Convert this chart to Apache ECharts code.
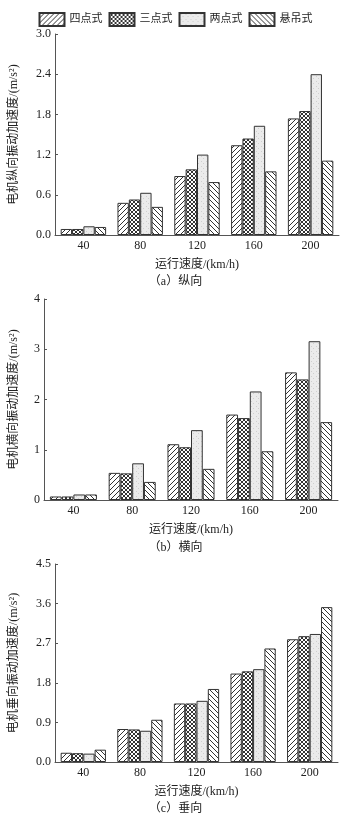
<!DOCTYPE html>
<html>
<head>
<meta charset="utf-8">
<script src="https://cdn.jsdelivr.net/npm/echarts@6/dist/echarts.min.js"></script>
<style>
  html, body { margin: 0; padding: 0; background: #fff; }
  #main { width: 351px; height: 817px; }
</style>
</head>
<body>
<div id="main"></div>
<script>
// 数据
var categories = ['40', '80', '120', '160', '200'];
var seriesNames = ['四点式', '三点式', '两点式', '悬吊式'];

// (a) 纵向
var longFour = [0.09, 0.48, 0.88, 1.34, 1.74];
var longThree = [0.09, 0.53, 0.98, 1.44, 1.85];
var longTwo = [0.13, 0.63, 1.20, 1.63, 2.40];
var longHang = [0.12, 0.42, 0.79, 0.95, 1.11];

// (b) 横向
var latFour = [0.07, 0.54, 1.11, 1.70, 2.54];
var latThree = [0.07, 0.53, 1.05, 1.63, 2.40];
var latTwo = [0.11, 0.73, 1.39, 2.16, 3.16];
var latHang = [0.11, 0.36, 0.62, 0.97, 1.55];

// (c) 垂向
var vertFour = [0.21, 0.75, 1.33, 2.01, 2.79];
var vertThree = [0.20, 0.74, 1.33, 2.06, 2.86];
var vertTwo = [0.19, 0.71, 1.39, 2.11, 2.91];
var vertHang = [0.28, 0.96, 1.66, 2.58, 3.52];

var font = '"Liberation Serif", "Noto Sans CJK SC", serif';

// 填充图案
function makePattern(type) {
    var c = document.createElement('canvas');
    var s = type === 'cross' ? 4 : 5;
    c.width = s; c.height = s;
    var ctx = c.getContext('2d');
    ctx.fillStyle = type === 'dots' ? '#ebebeb' : '#fff';
    ctx.fillRect(0, 0, s, s);
    ctx.strokeStyle = '#333';
    ctx.lineWidth = 1;
    if (type === 'fwd' || type === 'cross') {
        ctx.beginPath();
        ctx.moveTo(-1, s + 1); ctx.lineTo(s + 1, -1);
        ctx.moveTo(-1, 1); ctx.lineTo(1, -1);
        ctx.moveTo(s - 1, s + 1); ctx.lineTo(s + 1, s - 1);
        ctx.stroke();
    }
    if (type === 'back' || type === 'cross') {
        ctx.beginPath();
        ctx.moveTo(-1, -1); ctx.lineTo(s + 1, s + 1);
        ctx.moveTo(s - 1, -1); ctx.lineTo(s + 1, 1);
        ctx.moveTo(-1, s - 1); ctx.lineTo(1, s + 1);
        ctx.stroke();
    }
    if (type === 'dots') {
        ctx.fillStyle = '#cfcfcf';
        ctx.fillRect(1, 1, 1, 1);
        ctx.fillRect(3, 3, 1, 1);
    }
    return { image: c, repeat: 'repeat' };
}
var patterns = [makePattern('fwd'), makePattern('cross'), makePattern('dots'), makePattern('back')];

var grids = [
    { left: 53, right: 12, top: 34, height: 201 },
    { left: 44, right: 13, top: 299, height: 201 },
    { left: 53, right: 13, top: 564, height: 198 }
];
var yNames = ['电机纵向振动加速度/(m/s²)', '电机横向振动加速度/(m/s²)', '电机垂向振动加速度/(m/s²)'];
var yMax = [3, 4, 4.5];
var yStep = [0.6, 1, 0.9];
var yGap = [35, 24, 35];
var groups = [
    [longFour, longThree, longTwo, longHang],
    [latFour, latThree, latTwo, latHang],
    [vertFour, vertThree, vertTwo, vertHang]
];

var xAxes = [], yAxes = [], series = [];
for (var g = 0; g < 3; g++) {
    xAxes.push({
        gridIndex: g,
        type: 'category',
        data: categories,
        name: '运行速度/(km/h)',
        nameLocation: 'middle',
        nameGap: 24,
        nameTextStyle: { fontFamily: font, fontSize: 12, color: '#222' },
        axisLine: { lineStyle: { color: '#555' } },
        axisTick: { show: false },
        axisLabel: { fontFamily: font, fontSize: 12, color: '#222', margin: 5 }
    });
    (function (g) {
        yAxes.push({
            gridIndex: g,
            type: 'value',
            min: 0,
            max: yMax[g],
            interval: yStep[g],
            name: yNames[g],
            nameLocation: 'middle',
            nameRotate: 90,
            nameGap: yGap[g],
            nameTextStyle: { fontFamily: font, fontSize: 12, color: '#222' },
            splitLine: { show: false },
            axisLine: { show: true, lineStyle: { color: '#555' } },
            axisTick: { show: true, inside: true, length: 3, lineStyle: { color: '#555' } },
            axisLabel: {
                fontFamily: font, fontSize: 12, color: '#222', margin: 4,
                formatter: function (v) { return g === 1 ? String(v) : v.toFixed(1); }
            }
        });
    })(g);
    for (var k = 0; k < 4; k++) {
        series.push({
            name: seriesNames[k],
            type: 'bar',
            xAxisIndex: g,
            yAxisIndex: g,
            data: groups[g][k],
            barGap: '0%',
            barCategoryGap: '20%',
            itemStyle: { color: patterns[k], borderColor: '#333', borderWidth: 1 }
        });
    }
}

var captionStyle = { fontFamily: font, fontSize: 12, fontWeight: 'normal', color: '#222' };
var myChart = echarts.init(document.getElementById('main'));
var option = {
    animation: false,
    backgroundColor: '#fff',
    legend: {
        data: seriesNames,
        top: 7,
        left: 'center',
        icon: 'rect',
        itemWidth: 25,
        itemHeight: 13,
        itemGap: 6,
        textStyle: { fontFamily: font, fontSize: 11, color: '#222' }
    },
    title: [
        { text: '（a）纵向', left: 'center', top: 271, textStyle: captionStyle },
        { text: '（b）横向', left: 'center', top: 537, textStyle: captionStyle },
        { text: '（c）垂向', left: 'center', top: 798, textStyle: captionStyle }
    ],
    grid: grids,
    xAxis: xAxes,
    yAxis: yAxes,
    series: series
};
myChart.setOption(option);
</script>
</body>
</html>
